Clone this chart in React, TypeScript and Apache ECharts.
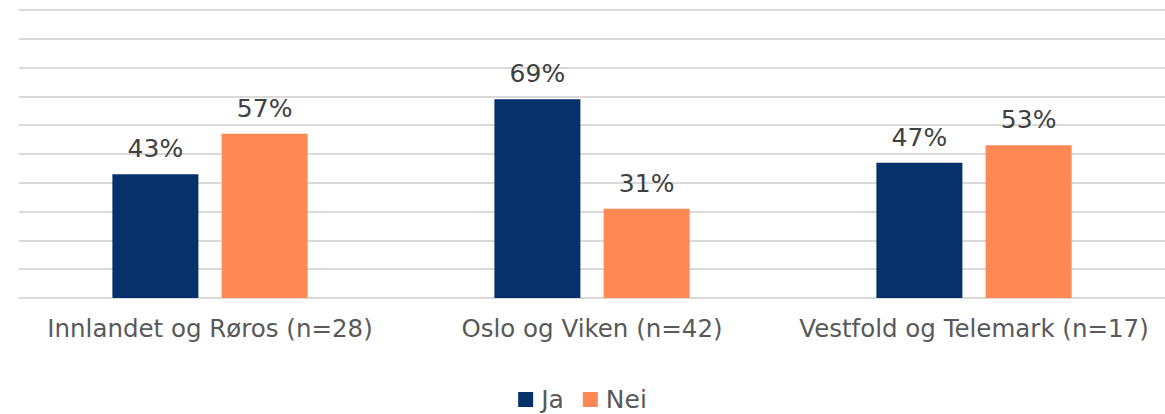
import React, { useEffect, useRef } from "react";
import * as echarts from "echarts";

const categories = ["Innlandet og Røros (n=28)", "Oslo og Viken (n=42)", "Vestfold og Telemark (n=17)"];
const jaValues = [43, 69, 47];
const neiValues = [57, 31, 53];
const seriesNames = ["Ja", "Nei"];

export default function App() {
  const ref = useRef<HTMLDivElement>(null);
  useEffect(() => {
    document.body.style.margin = "0";
    const chart = echarts.init(ref.current!, null, { renderer: "svg" });
    const font = "Verdana, 'DejaVu Sans', sans-serif";
    const label = {
      show: true,
      position: "top",
      distance: 13,
      formatter: "{c}%",
      fontSize: 25,
      color: "#404040",
      fontFamily: font,
    };
    chart.setOption({
      animation: false,
      grid: { left: 19, right: -5, top: 10, bottom: 116 },
      legend: {
        top: 387,
        left: "center",
        padding: 0,
        itemWidth: 15,
        itemHeight: 15,
        itemGap: 19,
        icon: "rect",
        textStyle: { fontSize: 25, lineHeight: 25, color: "#595959", fontFamily: font, padding: [0, 0, 0, 3] },
        data: seriesNames,
      },
      xAxis: {
        type: "category",
        data: categories,
        axisLine: { lineStyle: { color: "#d9d9d9", width: 2 } },
        axisTick: { show: false },
        axisLabel: { interval: 0, hideOverlap: false, fontSize: 24.5, color: "#595959", fontFamily: font, margin: 18 },
      },
      yAxis: {
        type: "value",
        min: 0,
        max: 100,
        interval: 10,
        axisLabel: { show: false },
        axisLine: { show: false },
        axisTick: { show: false },
        splitLine: { lineStyle: { color: "#d9d9d9", width: 2 } },
      },
      series: [
        {
          name: seriesNames[0],
          type: "bar",
          data: jaValues,
          barWidth: 86,
          barGap: "27%",
          itemStyle: { color: "#06316b" },
          label,
        },
        {
          name: seriesNames[1],
          type: "bar",
          data: neiValues,
          barWidth: 86,
          itemStyle: { color: "#ff8854" },
          label,
        },
      ],
    });
    return () => chart.dispose();
  }, []);
  return <div ref={ref} style={{ width: 1165, height: 414 }} />;
}
